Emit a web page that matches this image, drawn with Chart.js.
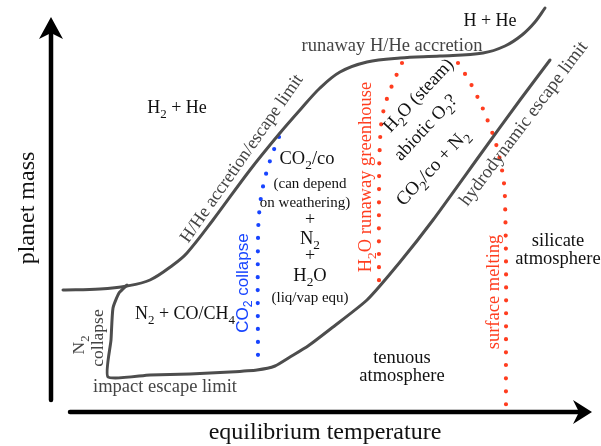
<!DOCTYPE html>
<html>
<head>
<meta charset="utf-8">
<script src="https://cdn.jsdelivr.net/npm/chart.js@4.4.1/dist/chart.umd.min.js"></script>
<style>
  html, body { margin: 0; padding: 0; background: #fff; }
  #wrap { width: 601px; height: 446px; }
</style>
</head>
<body>
<div id="wrap"><canvas id="regimes" width="601" height="446"></canvas></div>
<script>
// schematic units: x = equilibrium temperature, y = planet mass (arbitrary)
const accretionLimit = [
  [12.6, 31.2], [20, 31.4], [25.4, 32], [30, 33.2], [34.6, 36.2], [37.4, 38.6],
  [42.6, 45.2], [50, 55.2], [56, 62.6], [60, 67.2], [64, 71.6], [68, 74.8],
  [73.4, 76.8], [80, 77.6], [88, 78], [96.6, 78.6], [101, 80], [104.4, 82.2],
  [107, 84.8], [109, 87.6]
];
const collapseAndEscape = [
  [25.4, 32.2], [23.8, 30.6], [22.6, 27.6], [22.2, 21.2], [21.6, 13.8], [30, 14.2],
  [38, 14.4], [46, 14.8], [51.4, 15.2], [55, 16], [58, 17.8], [61.6, 20],
  [66.6, 23.8], [73.4, 29.2], [80, 36.8], [86.6, 45.2], [96, 58.2], [104, 69.2], [110, 77.2]
];
const co2Collapse = [[55.8, 61.8], [54.4, 58.2], [53, 53.6], [52, 48.2], [51.6, 41.2], [51.6, 15.6]];
const runawayGreenhouse = [[80.4, 76.6], [78.2, 71.6], [76.6, 66.6], [76, 60.8], [75.8, 49.2], [75.8, 30.8]];
const surfaceMelting = [[91.6, 76.6], [94.4, 72], [97.8, 64.4], [100, 57.2], [101, 49.2], [101.2, 7.8]];

const GRAY = '#4d4d4d';
const RED = '#ff3d1f';
const BLUE = '#1744ff';
const SERIF = '"Liberation Serif", "DejaVu Serif", serif';
const SANS = '"Liberation Sans", Arial, sans-serif';

// text labels: '_x' = subscript x
const LABELS = [
  { t: 'planet mass', x: 5.2, y: 47.6, s: 24, r: -90 },
  { t: 'equilibrium temperature', x: 65, y: 3, s: 24 },
  { t: 'H_2 + He', x: 35.4, y: 67.8, s: 18 },
  { t: 'H + He', x: 98, y: 85.2, s: 18 },
  { t: 'runaway H/He accretion', x: 78.4, y: 80.2, s: 18.5, c: '#444' },
  { t: 'H/He accretion/escape limit', x: 48.2, y: 57.6, s: 18, r: -55, c: '#444' },
  { t: 'CO_2/co', x: 61.4, y: 57.6, s: 18.5 },
  { t: '(can depend', x: 62, y: 52.6, s: 15 },
  { t: 'on weathering)', x: 61, y: 48.8, s: 15 },
  { t: '+', x: 62, y: 45.4, s: 18 },
  { t: 'N_2', x: 62, y: 41.6, s: 18.5 },
  { t: '+', x: 62, y: 38.2, s: 18 },
  { t: 'H_2O', x: 62, y: 34.2, s: 18.5 },
  { t: '(liq/vap equ)', x: 62, y: 29.8, s: 15 },
  { t: 'N_2 + CO/CH_4', x: 37, y: 26.6, s: 18 },
  { t: 'CO_2 collapse', x: 48.4, y: 32.6, s: 17, r: -90, c: BLUE, f: SANS },
  { t: 'N_2', x: 15.6, y: 20.2, s: 17.5, r: -90, c: '#444' },
  { t: 'collapse', x: 19.4, y: 21.6, s: 17.5, r: -90, c: '#444' },
  { t: 'impact escape limit', x: 33, y: 12, s: 18.5, c: '#444' },
  { t: 'H_2O runaway greenhouse', x: 73, y: 53.8, s: 18.5, r: -90, c: RED },
  { t: 'H_2O (steam)', x: 83.6, y: 70.2, s: 18.5, r: -47 },
  { t: 'abiotic O_2?', x: 85, y: 63.8, s: 18.5, r: -47 },
  { t: 'CO_2/co + N_2', x: 86.4, y: 55.8, s: 19, r: -47 },
  { t: 'hydrodynamic escape limit', x: 104.6, y: 64.6, s: 18.5, r: -53, c: '#444' },
  { t: 'surface melting', x: 98.6, y: 30.8, s: 18.5, r: -90, c: RED },
  { t: 'silicate', x: 111.6, y: 41.2, s: 18.5 },
  { t: 'atmosphere', x: 111.6, y: 37.6, s: 18.5 },
  { t: 'tenuous', x: 80.4, y: 17.8, s: 18.5 },
  { t: 'atmosphere', x: 80.4, y: 14.2, s: 18.5 }
];

function toXY(list) {
  return list.map(([x, y]) => ({ x, y }));
}

function parseRuns(str) {
  const runs = [];
  for (let i = 0; i < str.length; i++) {
    if (str[i] === '_' && i + 1 < str.length) {
      runs.push({ txt: str[i + 1], sub: true });
      i++;
    } else {
      const last = runs[runs.length - 1];
      if (last && !last.sub) last.txt += str[i];
      else runs.push({ txt: str[i], sub: false });
    }
  }
  return runs;
}

function drawRich(ctx, lbl, px, py) {
  const size = lbl.s;
  const fam = lbl.f || SERIF;
  const runs = parseRuns(lbl.t);
  let total = 0;
  runs.forEach(r => {
    ctx.font = `${r.sub ? size * 0.72 : size}px ${fam}`;
    r.w = ctx.measureText(r.txt).width;
    total += r.w;
  });
  ctx.save();
  ctx.translate(px, py);
  ctx.rotate((lbl.r || 0) * Math.PI / 180);
  ctx.fillStyle = lbl.c || '#111';
  ctx.textBaseline = 'alphabetic';
  ctx.textAlign = 'left';
  let cx = -total / 2;
  const base = size * 0.33;
  runs.forEach(r => {
    ctx.font = `${r.sub ? size * 0.72 : size}px ${fam}`;
    ctx.fillText(r.txt, cx, base + (r.sub ? size * 0.28 : 0));
    cx += r.w;
  });
  ctx.restore();
}

const diagramPlugin = {
  id: 'diagram',
  beforeDatasetsDraw(chart) {
    const { ctx, scales: { x, y } } = chart;
    const X = v => x.getPixelForValue(v);
    const Y = v => y.getPixelForValue(v);
    ctx.save();
    ctx.strokeStyle = '#000';
    ctx.fillStyle = '#000';
    ctx.lineCap = 'round';
    // vertical axis
    ctx.lineWidth = 4.5;
    ctx.beginPath();
    ctx.moveTo(X(10.2), Y(9.2));
    ctx.lineTo(X(10.2), Y(82.8));
    ctx.stroke();
    ctx.beginPath();
    ctx.moveTo(X(10.2), Y(85.8));
    ctx.lineTo(X(12.6), Y(81.4));
    ctx.lineTo(X(10.2), Y(82.6));
    ctx.lineTo(X(7.8), Y(81.4));
    ctx.closePath();
    ctx.fill();
    // horizontal axis
    ctx.beginPath();
    ctx.moveTo(X(14), Y(6.8));
    ctx.lineTo(X(115.6), Y(6.8));
    ctx.stroke();
    ctx.beginPath();
    ctx.moveTo(X(118.4), Y(6.8));
    ctx.lineTo(X(114.6), Y(9.2));
    ctx.lineTo(X(115.8), Y(6.8));
    ctx.lineTo(X(114.6), Y(4.4));
    ctx.closePath();
    ctx.fill();
    ctx.restore();
  },
  afterDatasetsDraw(chart) {
    const { ctx, scales: { x, y } } = chart;
    LABELS.forEach(l => drawRich(ctx, l, x.getPixelForValue(l.x), y.getPixelForValue(l.y)));
  }
};

const solid = (data, color, tension) => ({
  data: toXY(data), showLine: true, borderColor: color, borderWidth: 3,
  pointRadius: 0, tension, borderCapStyle: 'round', borderJoinStyle: 'round'
});
const dotted = (data, color) => ({
  data: toXY(data), showLine: true, borderColor: color, borderWidth: 4.2,
  borderDash: [0, 13], borderCapStyle: 'round', pointRadius: 0, tension: 0.4
});

new Chart(document.getElementById('regimes'), {
  type: 'scatter',
  data: {
    datasets: [
      solid(accretionLimit, GRAY, 0.35),
      solid(collapseAndEscape, GRAY, 0.18),
      dotted(co2Collapse, BLUE),
      dotted(runawayGreenhouse, RED),
      dotted(surfaceMelting, RED)
    ]
  },
  options: {
    responsive: false,
    animation: false,
    layout: { padding: 0 },
    plugins: { legend: { display: false }, tooltip: { enabled: false } },
    scales: {
      x: { type: 'linear', min: 0, max: 120.2, display: false },
      y: { type: 'linear', min: 0, max: 89.2, display: false }
    }
  },
  plugins: [diagramPlugin]
});
</script>
</body>
</html>
